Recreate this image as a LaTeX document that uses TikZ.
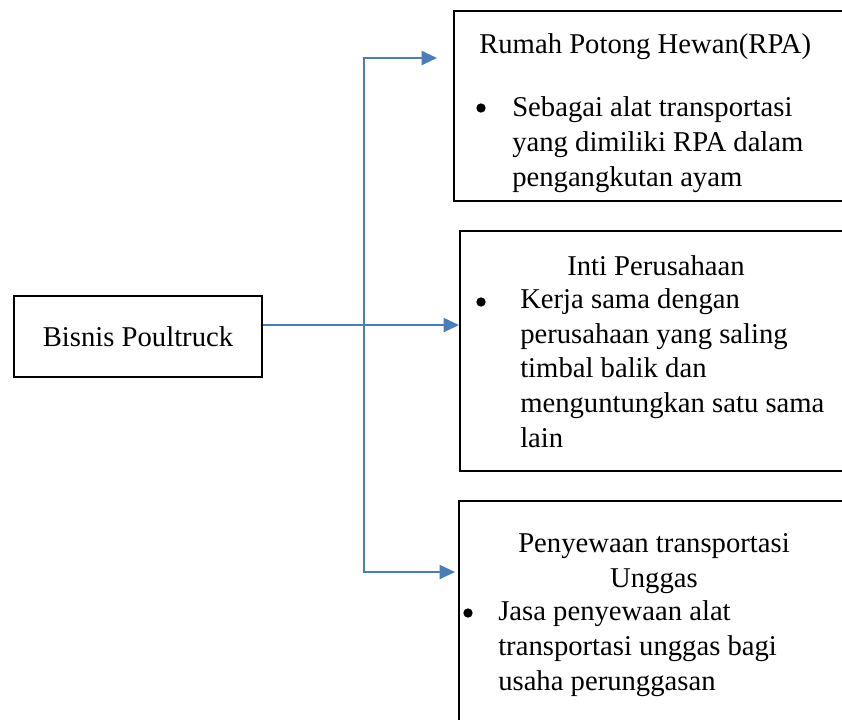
\documentclass[tikz,border=0pt]{standalone}
\usepackage{fontspec}
\setmainfont{Liberation Serif}
\usetikzlibrary{arrows.meta,positioning}
\definecolor{linkblue}{RGB}{74,126,187}

\begin{document}
\begin{tikzpicture}[x=0.75pt,y=-0.75pt,>={Triangle[length=11.5pt,width=10.5pt]},
    font=\fontsize{21.5}{26}\selectfont]
    % Box, text and connector styles
    \tikzstyle{box}=[draw,line width=1.2pt,inner sep=0pt]
    \tikzstyle{txt}=[inner sep=0pt,anchor=base west,align=left]
    \tikzstyle{dot}=[circle,fill,inner sep=0pt,minimum size=7pt]
    \tikzstyle{link}=[draw=linkblue,line width=1.5pt]

    \useasboundingbox (0,0) rectangle (842,719);
    \clip (0,0) rectangle (842,719);

    % Boxes
    \node[box,minimum width=186pt,minimum height=60.75pt] (bisnis) at (138,336.5) {Bisnis Poultruck};
    \node[box,anchor=north west,minimum width=297.75pt,minimum height=142.5pt] (rpa)  at (453,10)  {};
    \node[box,anchor=north west,minimum width=293.25pt,minimum height=180pt]   (inti) at (459,230) {};
    \node[box,anchor=north west,minimum width=294pt,minimum height=172.5pt]    (sewa) at (458,500) {};

    % Texts in the boxes (multi-line texts sit on the baseline of their last line)
    \node[txt]  (rpa-title) at (479,53)  {Rumah Potong Hewan(RPA)};
    \node[dot]  (rpa-dot)   at (481,108) {};
    \node[txt]  (rpa-item)  at (512,186) {Sebagai alat transportasi\\yang dimiliki RPA dalam\\pengangkutan ayam};

    \node[txt,anchor=base] (inti-title) at (656,275) {Inti Perusahaan};
    \node[dot]  (inti-dot)  at (481,302) {};
    \node[txt]  (inti-item) at (520,447) {Kerja sama dengan\\perusahaan yang saling\\timbal balik dan\\menguntungkan satu sama\\lain};

    \node[txt,anchor=base,align=center] (sewa-title) at (654,587) {Penyewaan transportasi\\Unggas};
    \node[dot]  (sewa-dot)  at (468,613) {};
    \node[txt]  (sewa-item) at (498,690) {Jasa penyewaan alat\\transportasi unggas bagi\\usaha perunggasan};

    % Connectors
    \coordinate (top)     at (364,58);
    \coordinate (bottom)  at (364,572);
    \coordinate (rpa-in)  at (437,58);
    \coordinate (sewa-in) at (455,572);

    \draw[link,->] ([yshift=8.6pt]bisnis.east) coordinate (fork) -- (fork -| inti.west);
    \draw[link,<->] (rpa-in) -- (top) -- (bottom) -- (sewa-in);

\end{tikzpicture}
\end{document}
